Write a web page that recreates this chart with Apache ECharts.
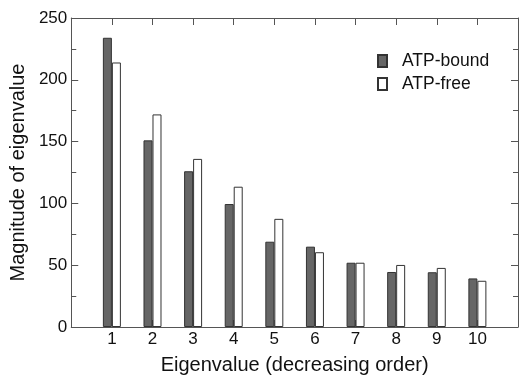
<!DOCTYPE html>
<html>
<head>
<meta charset="utf-8">
<script src="https://cdn.jsdelivr.net/npm/echarts@6/dist/echarts.min.js"></script>
<style>
  html, body { margin: 0; padding: 0; background: #fff; }
  #chart { width: 521px; height: 380px; }
</style>
</head>
<body>
<div id="chart"></div>
<script>
// eigenvalue index 1..10
const eigIndex = [1, 2, 3, 4, 5, 6, 7, 8, 9, 10]
const atpBound = [234, 151, 126, 99.5, 69, 65, 52, 44.5, 44.3, 39.3]
const atpFree = [214, 172, 136, 113.5, 87.5, 60.5, 52, 50.2, 47.8, 37.4]

const font = 'Liberation Sans, Arial, sans-serif'
const axisColor = '#555'

const chart = echarts.init(document.getElementById('chart'))

const pair = (arr) => eigIndex.map((x, i) => [x, arr[i]])

const tick = { show: true, inside: true, length: 7, lineStyle: { color: axisColor } }
const minor = { show: true, splitNumber: 2, length: 5, lineStyle: { color: axisColor } }
const line = { show: true, onZero: false, lineStyle: { color: axisColor } }

chart.setOption({
  backgroundColor: '#ffffff',
  animation: false,
  textStyle: { fontFamily: font },
  grid: { left: 71, right: 1, top: 18, bottom: 48 },
  legend: {
    orient: 'vertical',
    left: 372,
    top: 47,
    icon: 'rect',
    itemWidth: 9,
    itemHeight: 12,
    itemGap: 5,
    textStyle: { fontSize: 17.5, color: '#111', fontFamily: font, padding: [0, 0, 0, 10] },
    data: ['ATP-bound', 'ATP-free'],
  },
  xAxis: [
    {
      type: 'value',
      min: 0,
      max: 11,
      interval: 1,
      name: 'Eigenvalue (decreasing order)',
      nameLocation: 'middle',
      nameGap: 28,
      nameTextStyle: { fontSize: 20, color: '#111', fontFamily: font },
      axisLine: line,
      axisTick: tick,
      axisLabel: {
        fontSize: 17,
        color: '#111',
        margin: 4,
        formatter: (v) => (v >= 1 && v <= 10 ? String(v) : ''),
      },
      splitLine: { show: false },
    },
    {
      type: 'value',
      position: 'top',
      min: 0,
      max: 11,
      interval: 1,
      axisLine: line,
      axisTick: tick,
      axisLabel: { show: false },
      splitLine: { show: false },
    },
  ],
  yAxis: [
    {
      type: 'value',
      min: 0,
      max: 250,
      interval: 50,
      name: 'Magnitude of eigenvalue',
      nameLocation: 'middle',
      nameGap: 39,
      nameTextStyle: { fontSize: 20, color: '#111', fontFamily: font },
      axisLine: line,
      axisTick: tick,
      minorTick: minor,
      axisLabel: { fontSize: 17, color: '#111', margin: 4 },
      splitLine: { show: false },
    },
    {
      type: 'value',
      position: 'right',
      min: 0,
      max: 250,
      interval: 50,
      axisLine: line,
      axisTick: tick,
      minorTick: minor,
      axisLabel: { show: false },
      splitLine: { show: false },
    },
  ],
  series: [
    {
      name: 'ATP-bound',
      type: 'bar',
      data: pair(atpBound),
      barWidth: 9,
      barGap: '0%',
      itemStyle: { color: '#666666', borderColor: '#333', borderWidth: 1 },
    },
    {
      name: 'ATP-free',
      type: 'bar',
      data: pair(atpFree),
      barWidth: 9,
      barGap: '0%',
      itemStyle: { color: '#ffffff', borderColor: '#333', borderWidth: 1 },
    },
  ],
})
</script>
</body>
</html>
